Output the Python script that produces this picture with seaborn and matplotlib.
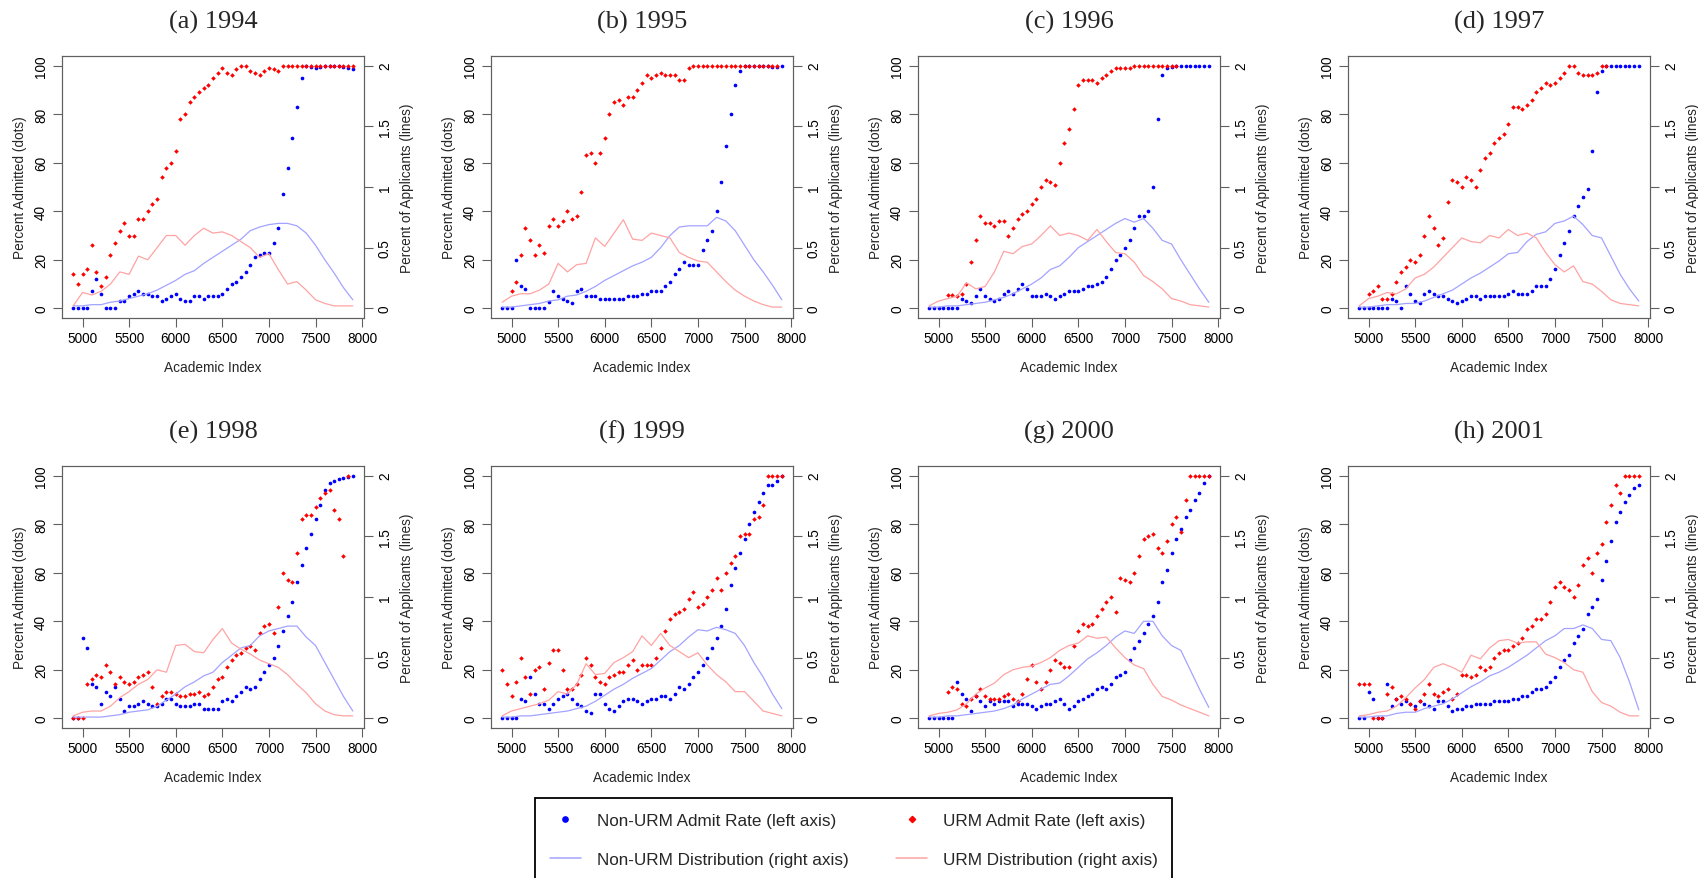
import numpy as np
import matplotlib
matplotlib.use("Agg")
import matplotlib.pyplot as plt
from matplotlib.lines import Line2D
import seaborn as sns

nan = np.nan

# ---------------- data ----------------
AI_DOTS = list(range(4900, 7901, 50))     # academic index for admit-rate dots
AI_LINES = list(range(4900, 7901, 100))   # academic index for distribution lines

PANEL_TITLES = ["(a) 1994", "(b) 1995", "(c) 1996", "(d) 1997",
                "(e) 1998", "(f) 1999", "(g) 2000", "(h) 2001"]
X_TICKS = [5000, 5500, 6000, 6500, 7000, 7500, 8000]
LEFT_TICKS = [0, 20, 40, 60, 80, 100]
RIGHT_TICKS = [0, 0.5, 1, 1.5, 2]
RIGHT_TICK_LABELS = ["0", "0.5", "1", "1.5", "2"]
LEGEND_LABELS = ["Non-URM Admit Rate (left axis)", "Non-URM Distribution (right axis)",
                 "URM Admit Rate (left axis)", "URM Distribution (right axis)"]

# 1994
NONURM_RATE_1994 = [0, 0, 0, 0, 7, 12, 6, 0, 0, 0,
                    3, 3, 5, 6, 7, 6, 6, 5, 5, 3,
                    4, 5, 6, 4, 3, 3, 5, 5, 4, 5,
                    5, 5, 6, 8, 10, 11, 13, 15, 18, 21,
                    22, 23, 23, 27, 33, 47, 58, 70, 83, 95,
                    100, 99.5, 99, 99.5, 100, 100, 100, 100, 99.5, 99,
                    98.5]
URM_RATE_1994 = [14, 10, 14, 16, 26, 15, 9, 13, 22, 27,
                 32, 35, 30, 30, 37, 37, 40, 43, 45, 54,
                 58, 60, 65, 78, 80, 85, 87, 89, 91, 92,
                 95, 97, 99, 97, 96, 98.5, 100, 100, 98, 97,
                 96, 98, 99, 98.5, 98, 100, 100, 100, 100, 100,
                 100, 100, 100, 100, 100, 100, 100, 100, 100, 100,
                 100]
NONURM_DIST_1994 = [0.02, 0.02, 0.03, 0.03, 0.05, 0.06, 0.08, 0.1, 0.12, 0.15,
                    0.19, 0.23, 0.28, 0.31, 0.37, 0.42, 0.47, 0.52, 0.57, 0.64,
                    0.67, 0.69, 0.7, 0.7, 0.68, 0.62, 0.52, 0.4, 0.29, 0.17, 0.07]
URM_DIST_1994 = [0.02, 0.13, 0.11, 0.14, 0.2, 0.3, 0.28, 0.43, 0.4, 0.5,
                 0.6, 0.6, 0.52, 0.6, 0.66, 0.62, 0.63, 0.6, 0.55, 0.5,
                 0.42, 0.45, 0.32, 0.2, 0.22, 0.15, 0.07, 0.04, 0.02, 0.02, 0.02]

# 1995
NONURM_RATE_1995 = [0, 0, 0, 20, 9, 8, 0, 0, 0, 0,
                    2.5, 7, 5, 4, 3, 2, 7, 8, 5, 5,
                    5, 4, 4, 4, 4, 4, 4, 5, 5, 5,
                    6, 6, 7, 7, 7, 9, 11, 14, 16, 19,
                    18, 18, 18, 24, 28, 32, 40, 52, 67, 80,
                    92, 98, 100, 100, 100, 100, 100, 100, 99.5, 99.5,
                    100]
URM_RATE_1995 = [nan, nan, 7, 11, 22, 33, 28, 22, 26, 23,
                 34, 37, 34, 36, 40, 37, 38, 48, 63, 64,
                 60, 64, 70, 80, 85, 86, 84, 87, 87, 90,
                 93, 96, 95, 96, 97, 96, 96, 96, 94, 94,
                 99, 100, 100, 100, 100, 100, 100, 100, 100, 100,
                 100, 100, 100, 100, 100, 100, 100, 100, 100, 100,
                 nan]
NONURM_DIST_1995 = [0.01, 0.01, 0.02, 0.03, 0.04, 0.06, 0.07, 0.1, 0.11, 0.14,
                    0.18, 0.23, 0.27, 0.31, 0.35, 0.38, 0.42, 0.5, 0.6, 0.67,
                    0.68, 0.68, 0.68, 0.75, 0.72, 0.64, 0.52, 0.4, 0.3, 0.19, 0.07]
URM_DIST_1995 = [0.05, 0.1, 0.12, 0.12, 0.15, 0.2, 0.37, 0.3, 0.36, 0.37,
                 0.58, 0.51, 0.62, 0.73, 0.57, 0.56, 0.62, 0.6, 0.58, 0.46,
                 0.42, 0.39, 0.38, 0.3, 0.22, 0.15, 0.1, 0.06, 0.03, 0.01, 0.01]

# 1996
NONURM_RATE_1996 = [0, 0, 0, 0, 0, 0, 0, 4, 3, 2,
                    5, 8, 5, 4, 3, 4, 6, 7, 6, 8,
                    10, 8, 5, 5, 5, 6, 5, 4, 5, 6,
                    7, 7, 7, 8, 9, 9, 10, 11, 13, 16,
                    20, 22, 25, 28, 33, 38, 38, 40, 50, 78,
                    96, 99, 99.5, 100, 100, 100, 100, 100, 100, 100,
                    100]
URM_RATE_1996 = [nan, nan, nan, nan, 5.5, 5.5, 5, 6, 10, 19,
                 28, 38, 35, 35, 34, 36, 36, 30, 33, 37,
                 39, 40, 43, 45, 50, 53, 52, 51, 60, 68,
                 74, 82, 92, 94, 94, 94, 93, 95, 96, 98,
                 99, 99, 99, 99, 100, 100, 100, 100, 100, 100,
                 100, 100, 100, 100, nan, nan, nan, nan, nan, nan,
                 nan]
NONURM_DIST_1996 = [0.01, 0.01, 0.02, 0.02, 0.03, 0.04, 0.05, 0.07, 0.09, 0.12,
                    0.16, 0.2, 0.25, 0.32, 0.35, 0.42, 0.5, 0.55, 0.6, 0.65,
                    0.7, 0.74, 0.71, 0.74, 0.66, 0.56, 0.53, 0.4, 0.28, 0.16, 0.05]
URM_DIST_1996 = [0.02, 0.06, 0.08, 0.1, 0.21, 0.16, 0.18, 0.3, 0.47, 0.45,
                 0.51, 0.53, 0.6, 0.68, 0.6, 0.62, 0.6, 0.56, 0.65, 0.55,
                 0.46, 0.45, 0.38, 0.27, 0.22, 0.16, 0.08, 0.06, 0.03, 0.02, 0.01]

# 1997
NONURM_RATE_1997 = [0, 0, 0, 0, 0, 0, 0, 4, 3, 0,
                    9, 6, 3, 2, 6, 7, 6, 5, 5, 4,
                    3, 2, 3, 4, 5, 5, 4, 5, 5, 5,
                    5, 5, 6, 7, 6, 6, 6, 7, 9, 9,
                    9, 12, 16, 22, 27, 32, 38, 42, 46, 49,
                    65, 89, 98, 100, 100, 100, 100, 100, 100, 100,
                    100]
URM_RATE_1997 = [nan, nan, 6, 7, 9, 4, 4, 6, 11, 15,
                 17, 20, 19, 22, 30, 38, 33, 26, 29, 44,
                 53, 52, 50, 54, 53, 50, 57, 62, 64, 68,
                 70, 72, 76, 83, 83, 82, 84, 86, 89, 91,
                 93, 92, 93, 95, 97, 100, 100, 97, 96, 96,
                 96, 97, 100, 100, nan, nan, nan, nan, nan, nan,
                 nan]
NONURM_DIST_1997 = [0.01, 0.01, 0.02, 0.03, 0.03, 0.04, 0.04, 0.06, 0.09, 0.12,
                    0.15, 0.2, 0.25, 0.29, 0.34, 0.39, 0.45, 0.46, 0.55, 0.61,
                    0.63, 0.7, 0.72, 0.76, 0.69, 0.6, 0.58, 0.43, 0.28, 0.16, 0.06]
URM_DIST_1997 = [0.02, 0.08, 0.1, 0.13, 0.12, 0.16, 0.25, 0.28, 0.34, 0.42,
                 0.5, 0.58, 0.55, 0.54, 0.6, 0.58, 0.65, 0.6, 0.62, 0.58,
                 0.46, 0.36, 0.3, 0.35, 0.22, 0.2, 0.14, 0.07, 0.04, 0.03, 0.02]

# 1998
NONURM_RATE_1998 = [0, 0, 33, 29, 14, 13, 6, 11, 9, 13,
                    8, 3, 5, 5, 6, 7, 6, 5, 5, 6,
                    8, 8, 6, 5, 5, 5, 6, 6, 4, 4,
                    4, 4, 7, 8, 7, 9, 11, 13, 12, 13,
                    16, 19, 22, 25, 30, 36, 42, 48, 56, 63,
                    70, 76, 82, 88, 94, 97, 98, 98.5, 99, 99.5,
                    100]
URM_RATE_1998 = [0, 0, 0, 14, 16, 18, 17, 22, 19, 14,
                 17, 15, 14, 15, 17, 18, 19, 13, 6, 9,
                 11, 11, 10, 9, 9, 10, 10, 11, 9, 10,
                 13, 16, 17, 21, 24, 26, 27, 29, 30, 28,
                 35, 38, 39, 35, 46, 60, 57, 56, 68, 82,
                 84, 84, 87, 91, 93, 94, 86, 82, 67, 100,
                 nan]
NONURM_DIST_1998 = [0.01, 0.01, 0.01, 0.01, 0.02, 0.03, 0.05, 0.06, 0.07, 0.1,
                    0.15, 0.2, 0.26, 0.3, 0.35, 0.38, 0.46, 0.52, 0.58, 0.6,
                    0.68, 0.72, 0.74, 0.76, 0.76, 0.67, 0.6, 0.46, 0.32, 0.18, 0.06]
URM_DIST_1998 = [0.02, 0.05, 0.06, 0.06, 0.1, 0.17, 0.22, 0.28, 0.32, 0.4,
                 0.38, 0.6, 0.61, 0.55, 0.54, 0.65, 0.74, 0.62, 0.57, 0.53,
                 0.48, 0.45, 0.42, 0.36, 0.28, 0.21, 0.12, 0.06, 0.03, 0.02, 0.02]

# 1999
NONURM_RATE_1999 = [0, 0, 0, 0, 8, 7, 17, 10, 6, 6,
                    4, 6, 8, 9, 10, 8, 6, 5, 3, 2,
                    10, 10, 6, 4, 3, 5, 7, 8, 8, 7,
                    6, 7, 8, 8, 9, 9, 8, 10, 13, 12,
                    14, 17, 19, 22, 25, 29, 33, 38, 45, 55,
                    62, 68, 74, 80, 85, 89, 93, 96, 96, 98,
                    100]
URM_RATE_1999 = [20, 14, 9, 15, 25, 17, 10, 20, 21, 12,
                 23, 28, 28, 20, 12, 12, 14, 18, 25, 22,
                 17, 15, 14, 17, 18, 19, 19, 22, 24, 20,
                 22, 22, 22, 25, 29, 36, 41, 43, 44, 45,
                 49, 52, 46, 47, 50, 53, 58, 53, 60, 64,
                 67, 75, 76, 76, 82, 83, 88, 100, 100, 100,
                 100]
NONURM_DIST_1999 = [0.01, 0.01, 0.02, 0.02, 0.03, 0.04, 0.05, 0.06, 0.08, 0.1,
                    0.14, 0.19, 0.24, 0.28, 0.33, 0.37, 0.41, 0.48, 0.55, 0.6,
                    0.67, 0.73, 0.72, 0.75, 0.73, 0.7, 0.6, 0.46, 0.34, 0.2, 0.08]
URM_DIST_1999 = [0.02, 0.06, 0.08, 0.1, 0.12, 0.15, 0.22, 0.2, 0.28, 0.45,
                 0.36, 0.37, 0.46, 0.5, 0.55, 0.68, 0.6, 0.7, 0.6, 0.55,
                 0.5, 0.54, 0.44, 0.36, 0.3, 0.22, 0.22, 0.14, 0.06, 0.04, 0.02]

# 2000
NONURM_RATE_2000 = [0, 0, 0, 0, 0, 0, 15, 10, 8, 3,
                    9, 7, 5, 7, 6, 7, 7, 7, 5, 6,
                    6, 6, 5, 4, 5, 6, 6, 7, 8, 6,
                    4, 5, 7, 8, 9, 10, 12, 13, 12, 14,
                    17, 18, 19, 24, 29, 32, 35, 39, 42, 48,
                    56, 61, 68, 74, 78, 83, 86, 90, 93, 97,
                    100]
URM_RATE_2000 = [nan, nan, nan, nan, 11, 13, 12, 6, 5, 8,
                 9, 12, 9, 8, 8, 8, 9, 10, 8, 7,
                 10, 16, 22, 15, 12, 15, 20, 24, 23, 21,
                 21, 30, 36, 39, 38, 39, 42, 45, 48, 50,
                 44, 58, 57, 56, 60, 67, 74, 75, 76, 70,
                 68, 73, 80, 83, 77, 90, 100, 100, 100, 100,
                 100]
NONURM_DIST_2000 = [0.01, 0.01, 0.02, 0.02, 0.03, 0.04, 0.05, 0.06, 0.08, 0.11,
                    0.16, 0.2, 0.24, 0.28, 0.29, 0.35, 0.42, 0.49, 0.54, 0.6,
                    0.67, 0.72, 0.7, 0.8, 0.8, 0.68, 0.6, 0.56, 0.4, 0.24, 0.09]
URM_DIST_2000 = [0.02, 0.04, 0.05, 0.07, 0.12, 0.2, 0.25, 0.29, 0.36, 0.4,
                 0.42, 0.43, 0.46, 0.5, 0.56, 0.6, 0.62, 0.68, 0.66, 0.67,
                 0.58, 0.5, 0.44, 0.41, 0.28, 0.18, 0.15, 0.11, 0.08, 0.05, 0.02]

# 2001
NONURM_RATE_2001 = [0, 0, 11, 8, 0, 0, 14, 5, 8, 6,
                    7, 6, 5, 7, 6, 5, 4, 7, 7, 5,
                    3, 4, 4, 5, 5, 6, 6, 6, 6, 7,
                    7, 7, 7, 8, 8, 9, 9, 11, 12, 12,
                    13, 15, 17, 21, 24, 26, 31, 34, 37, 43,
                    46, 49, 57, 65, 73, 81, 85, 89, 92, 95,
                    96]
URM_RATE_2001 = [14, 14, 14, 0, 0, 0, 10, 13, 8, 9,
                 8, 6, 4, 7, 10, 14, 10, 9, 11, 12,
                 8, 10, 18, 18, 17, 18, 21, 20, 21, 25,
                 27, 28, 28, 30, 31, 33, 37, 38, 41, 41,
                 43, 48, 54, 56, 54, 53, 50, 55, 63, 66,
                 60, 68, 72, 81, 88, 96, 93, 100, 100, 100,
                 100]
NONURM_DIST_2001 = [0.01, 0.01, 0.02, 0.02, 0.04, 0.05, 0.05, 0.08, 0.1, 0.12,
                    0.16, 0.21, 0.26, 0.3, 0.35, 0.38, 0.42, 0.47, 0.52, 0.58,
                    0.64, 0.68, 0.74, 0.74, 0.77, 0.74, 0.65, 0.64, 0.5, 0.3, 0.07]
URM_DIST_2001 = [0.02, 0.03, 0.05, 0.06, 0.1, 0.17, 0.25, 0.32, 0.42, 0.45,
                 0.42, 0.38, 0.52, 0.49, 0.58, 0.64, 0.65, 0.62, 0.63, 0.63,
                 0.53, 0.5, 0.46, 0.4, 0.38, 0.22, 0.13, 0.1, 0.05, 0.02, 0.02]

PANELS = [
    (NONURM_RATE_1994, URM_RATE_1994, NONURM_DIST_1994, URM_DIST_1994),
    (NONURM_RATE_1995, URM_RATE_1995, NONURM_DIST_1995, URM_DIST_1995),
    (NONURM_RATE_1996, URM_RATE_1996, NONURM_DIST_1996, URM_DIST_1996),
    (NONURM_RATE_1997, URM_RATE_1997, NONURM_DIST_1997, URM_DIST_1997),
    (NONURM_RATE_1998, URM_RATE_1998, NONURM_DIST_1998, URM_DIST_1998),
    (NONURM_RATE_1999, URM_RATE_1999, NONURM_DIST_1999, URM_DIST_1999),
    (NONURM_RATE_2000, URM_RATE_2000, NONURM_DIST_2000, URM_DIST_2000),
    (NONURM_RATE_2001, URM_RATE_2001, NONURM_DIST_2001, URM_DIST_2001),
]

# ---------------- style ----------------
sns.set_style("white")
plt.rcParams['font.family'] = ['Liberation Sans', 'DejaVu Sans']

BLUE = "#0000FF"
RED = "#FF0000"
LBLUE = "#A3A3FF"
LRED = "#FFA3A3"
FRAME = "#606060"
FS = 9.8
LEG_FS = 12.3

W, H = 1698, 879
fig = plt.figure(figsize=(W / 100, H / 100), dpi=100)

COL_LEFT = [62, 491, 918, 1348]
ROW_TOP = [57, 467]
AX_W, AX_H = 302, 262

for i, (nu_rate, u_rate, nu_dist, u_dist) in enumerate(PANELS):
    r, c = divmod(i, 4)
    left, top = COL_LEFT[c], ROW_TOP[r]
    ax = fig.add_axes([left / W, 1 - (top + AX_H) / H, AX_W / W, AX_H / H])
    ax2 = ax.twinx()

    sns.scatterplot(x=AI_DOTS, y=nu_rate, ax=ax, color=BLUE, marker="o",
                    s=7, linewidth=0, legend=False, zorder=3)
    sns.scatterplot(x=AI_DOTS, y=u_rate, ax=ax, color=RED, marker="D",
                    s=5.5, linewidth=0, legend=False, zorder=3)
    sns.lineplot(x=AI_LINES, y=nu_dist, ax=ax2, color=LBLUE, linewidth=0.9,
                 legend=False)
    sns.lineplot(x=AI_LINES, y=u_dist, ax=ax2, color=LRED, linewidth=0.9,
                 legend=False)

    ax.set_xlim(4780, 8020)
    ax.set_ylim(-4, 104)
    ax2.set_ylim(-0.08, 2.08)

    ax.set_xticks(X_TICKS)
    ax.set_xticklabels([str(t) for t in X_TICKS])
    ax.set_yticks(LEFT_TICKS)
    ax.set_yticklabels([str(t) for t in LEFT_TICKS], rotation=90, va="center")
    ax2.set_yticks(RIGHT_TICKS)
    ax2.set_yticklabels(RIGHT_TICK_LABELS, rotation=90, va="center")

    for a in (ax, ax2):
        for sp in a.spines.values():
            sp.set_color(FRAME)
            sp.set_linewidth(0.8)
    ax.tick_params(axis="x", bottom=True, top=False, direction="out", length=6.5,
                   width=0.8, color=FRAME, labelsize=FS, pad=3, labelcolor="black")
    ax.tick_params(axis="y", left=True, right=False, direction="out", length=6.5,
                   width=0.8, color=FRAME, labelsize=FS, pad=3.5, labelcolor="black")
    ax2.tick_params(axis="y", right=True, left=False, direction="out", length=6.5,
                    width=0.8, color=FRAME, labelsize=FS, pad=3.5, labelcolor="black")

    ax.set_xlabel("Academic Index", fontsize=FS, va="center")
    ax.xaxis.set_label_coords(0.5, -49 / AX_H)
    ax.set_ylabel("Percent Admitted (dots)", fontsize=FS, va="center")
    ax.yaxis.set_label_coords(-42 / AX_W, 0.5)
    ax2.set_ylabel("Percent of Applicants (lines)", fontsize=FS, rotation=90,
                   va="center", ha="center", rotation_mode="anchor")
    ax2.yaxis.set_label_coords(1 + 43 / AX_W, 0.5)

    fig.text((left + AX_W / 2) / W, 1 - (top - 35) / H, PANEL_TITLES[i],
             ha="center", va="center", fontsize=19, family="Liberation Serif")

handles = [
    Line2D([], [], linestyle="", marker="o", markersize=3.8, color=BLUE),
    Line2D([], [], color=LBLUE, linewidth=1.1),
    Line2D([], [], linestyle="", marker="D", markersize=3.2, color=RED),
    Line2D([], [], color=LRED, linewidth=1.1),
]
leg = fig.legend(handles, LEGEND_LABELS, ncol=2, loc="upper left",
                 bbox_to_anchor=(535 / W, 1 - 799 / H), bbox_transform=fig.transFigure,
                 frameon=True, fancybox=False, fontsize=LEG_FS, borderpad=0.85,
                 labelspacing=1.45, handlelength=1.84, handletextpad=0.92,
                 columnspacing=2.78, borderaxespad=0)
leg.get_frame().set_edgecolor("black")
leg.get_frame().set_linewidth(1.3)
leg.get_frame().set_alpha(1)

fig.savefig("out.png", dpi=100)
